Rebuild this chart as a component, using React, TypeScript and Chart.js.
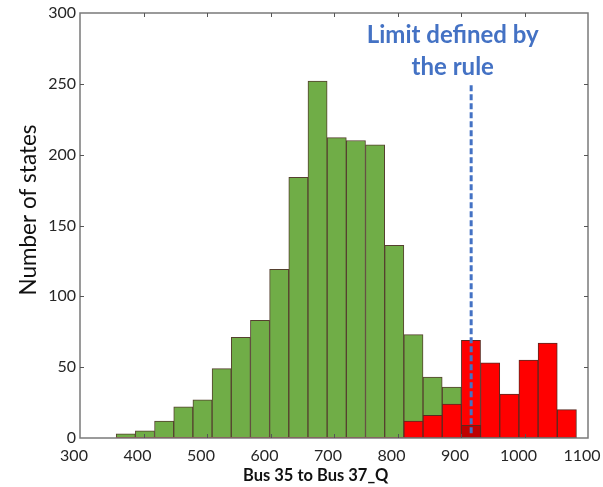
import React, { useEffect, useRef } from "react";
import { Chart, registerables } from "chart.js";

Chart.register(...registerables);

// Histogram bin centers (Bus 35 to Bus 37_Q), bin width ~30.2
const binCenters = [
  372.1, 402.3, 432.5, 462.7, 492.9, 523.1, 553.3, 583.5, 613.7, 643.9, 674.1, 704.3,
  734.5, 764.7, 794.9, 825.1, 855.3, 885.5, 915.7, 945.9, 976.1, 1006.3, 1036.5, 1066.7,
];
const greenCounts = [3, 5, 12, 22, 27, 49, 71, 83, 119, 184, 252, 212, 210, 207, 136, 73, 43, 36, 9, 0, 0, 0, 0, 0];
const redCounts = [0, 0, 0, 0, 0, 0, 0, 0, 0, 0, 0, 0, 0, 0, 0, 12, 16, 24, 69, 53, 31, 55, 67, 20];
const xTicks = [300, 400, 500, 600, 700, 800, 900, 1000, 1100];
const yTicks = [0, 50, 100, 150, 200, 250, 300];
const limitValue = 916;
const limitLineRange = [2, 249];
const annotationLines = ["Limit defined by", "the rule"];
const annotationX = 887;
const annotationY = [284, 262];
const xTitle = "Bus 35 to Bus 37_Q";
const yTitle = "Number of states";

// overlap where the red bar is taller than a non-zero green bar (shown darker)
const overlapCounts = greenCounts.map((g, i) => (g > 0 && redCounts[i] > g ? g : 0));

const FONT = "Lato, 'Open Sans', sans-serif";

const framePlugin = {
  id: "framePlugin",
  afterDatasetsDraw(chart: any) {
    const { ctx, chartArea, scales } = chart;
    const { left, right, top, bottom } = chartArea;
    const xs = scales.x;
    const ys = scales.y;
    ctx.save();
    // limit line
    const lx = xs.getPixelForValue(limitValue);
    ctx.strokeStyle = "#4472C4";
    ctx.lineWidth = 3;
    ctx.setLineDash([6, 3]);
    ctx.beginPath();
    ctx.moveTo(lx, ys.getPixelForValue(limitLineRange[1]));
    ctx.lineTo(lx, ys.getPixelForValue(limitLineRange[0]));
    ctx.stroke();
    ctx.setLineDash([]);
    // frame
    ctx.strokeStyle = "#7a7a7a";
    ctx.lineWidth = 1.5;
    ctx.strokeRect(left, top, right - left, bottom - top);
    // inward ticks
    ctx.lineWidth = 1;
    ctx.strokeStyle = "#555";
    const tl = 4;
    ctx.beginPath();
    xTicks.forEach((v) => {
      if (v === xTicks[0] || v === xTicks[xTicks.length - 1]) return;
      const px = Math.round(xs.getPixelForValue(v)) + 0.5;
      ctx.moveTo(px, top);
      ctx.lineTo(px, top + tl);
      ctx.moveTo(px, bottom);
      ctx.lineTo(px, bottom - tl);
    });
    yTicks.forEach((v) => {
      if (v === yTicks[0] || v === yTicks[yTicks.length - 1]) return;
      const py = Math.round(ys.getPixelForValue(v)) + 0.5;
      ctx.moveTo(left, py);
      ctx.lineTo(left + tl, py);
      ctx.moveTo(right, py);
      ctx.lineTo(right - tl, py);
    });
    ctx.stroke();
    // annotation text
    ctx.fillStyle = "#4472C4";
    ctx.font = `bold 24px ${FONT}`;
    ctx.textAlign = "center";
    ctx.textBaseline = "middle";
    annotationLines.forEach((t, i) => {
      ctx.fillText(t, xs.getPixelForValue(annotationX), ys.getPixelForValue(annotationY[i]));
    });
    // axis titles
    ctx.fillStyle = "#111";
    ctx.font = `bold 16.5px ${FONT}`;
    ctx.textAlign = "left";
    ctx.fillText(xTitle, 243, 476);
    ctx.save();
    ctx.translate(29, 210);
    ctx.rotate(-Math.PI / 2);
    ctx.font = `22.5px ${FONT}`;
    ctx.textAlign = "center";
    ctx.fillText(yTitle, 0, 0);
    ctx.restore();
    ctx.restore();
  },
};

export default function App() {
  const ref = useRef<HTMLCanvasElement>(null);
  useEffect(() => {
    document.body.style.margin = "0";
    const canvas = ref.current;
    if (!canvas) return;
    const mk = (arr: number[]) => binCenters.map((x, i) => ({ x, y: arr[i] }));
    const barDs = (label: string, arr: number[], bg: string, bc: string, order: number) =>
      ({
        label,
        data: mk(arr),
        backgroundColor: bg,
        borderColor: bc,
        borderWidth: (c: any) => (c.raw && c.raw.y > 0 ? 1 : 0),
        borderSkipped: false,
        grouped: false,
        barPercentage: 1,
        categoryPercentage: 1,
        order,
      } as any);
    const chart = new Chart(canvas, {
      type: "bar",
      data: {
        datasets: [
          barDs("green", greenCounts, "#70AD47", "#55402f", 3),
          barDs("red", redCounts, "#FF0000", "#5a2a20", 2),
          barDs("overlap", overlapCounts, "#C00000", "#5a2a20", 1),
        ],
      },
      options: {
        responsive: false,
        animation: false,
        layout: { padding: { top: 13, right: 15, left: 0, bottom: 0 } },
        plugins: { legend: { display: false }, tooltip: { enabled: false } },
        scales: {
          x: {
            type: "linear",
            min: 300,
            max: 1100,
            offset: false,
            grid: { display: false, drawTicks: false },
            border: { display: false },
            afterBuildTicks: (s: any) => {
              s.ticks = xTicks.map((v) => ({ value: v }));
            },
            afterFit: (s: any) => {
              s.height = 49;
              s.paddingLeft = 0;
              s.paddingRight = 0;
            },
            ticks: {
              padding: 8,
              labelOffset: -6,
              color: "#262626",
              font: { family: FONT, size: 16 },
              maxRotation: 0,
              autoSkip: false,
              callback: (v: any) => String(v),
            },
          },
          y: {
            min: 0,
            max: 300,
            grid: { display: false, drawTicks: false },
            border: { display: false },
            afterBuildTicks: (s: any) => {
              s.ticks = yTicks.map((v) => ({ value: v }));
            },
            afterFit: (s: any) => {
              s.width = 80;
              s.paddingTop = 0;
              s.paddingBottom = 0;
            },
            ticks: {
              padding: 4,
              color: "#262626",
              font: { family: FONT, size: 16 },
              callback: (v: any) => String(v),
            },
          },
        },
      } as any,
      plugins: [framePlugin],
    });
    return () => chart.destroy();
  }, []);
  return <canvas ref={ref} width={603} height={487} style={{ display: "block" }} />;
}
